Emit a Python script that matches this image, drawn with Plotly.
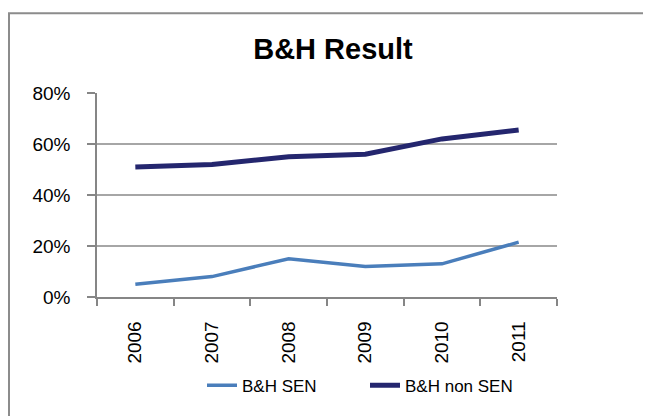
import plotly.graph_objects as go

years = ["2006", "2007", "2008", "2009", "2010", "2011"]
sen = [0.05, 0.08, 0.15, 0.12, 0.13, 0.215]
non_sen = [0.51, 0.52, 0.55, 0.56, 0.62, 0.655]
y_ticks = [0, 0.2, 0.4, 0.6, 0.8]
y_labels = ["0%", "20%", "40%", "60%", "80%"]

FONT = "Liberation Sans"
OFF = 8  # page body margin
W, H = 651 - OFF, 416 - OFF
# plot area in page pixels: x 97..557, y 93..300
L = 97 - OFF
T = 93 - OFF
R = W - (557 - OFF)
B = H - (300 - OFF)
pw, ph = W - L - R, H - T - B

def px_x(p):
    return (p - OFF - L) / pw

def px_y(p):
    return (H - B - (p - OFF)) / ph

fig = go.Figure()
fig.add_trace(go.Scatter(x=years, y=sen, mode="lines", name="B&H SEN",
                         line=dict(color="#4A7EBB", width=3.5)))
fig.add_trace(go.Scatter(x=years, y=non_sen, mode="lines", name="B&H non SEN",
                         line=dict(color="#24266E", width=5)))

fig.update_layout(
    width=W, height=H,
    margin=dict(l=L, r=R, t=T, b=B),
    paper_bgcolor="white", plot_bgcolor="white",
    font=dict(family=FONT, size=18, color="black"),
    title=dict(text="<b>B&H Result</b>", font=dict(family=FONT, size=29, color="black"),
               x=(333 - OFF) / W, xref="container", xanchor="center",
               y=1 - (49 - OFF) / H, yref="container", yanchor="middle"),
    showlegend=True,
    legend=dict(orientation="h", x=px_x(365), xanchor="center", y=px_y(390), yanchor="middle",
                font=dict(family=FONT, size=17, color="black"), bgcolor="rgba(0,0,0,0)",
                entrywidth=118),
    xaxis=dict(type="category", showgrid=False, showline=True, linecolor="#868686", linewidth=1.5,
               ticks="outside", ticklen=7, tickcolor="#868686", tickwidth=1.5, tickson="boundaries",
               tickangle=-90, tickfont=dict(family=FONT, size=19), range=[-0.5, 5.5],
               ticklabelstandoff=15),
    yaxis=dict(range=[0, 0.8], tickvals=y_ticks, ticktext=y_labels, showgrid=True,
               gridcolor="#A6A6A6", gridwidth=1.5, showline=True, linecolor="#868686", linewidth=1.5,
               ticks="outside", ticklen=8, tickcolor="#868686", tickwidth=1.5, zeroline=False,
               tickfont=dict(family=FONT, size=19), ticklabelstandoff=13),
    shapes=[
        dict(type="rect", xref="paper", yref="paper", x0=px_x(9), x1=px_x(720),
             y0=px_y(480), y1=px_y(12), line=dict(color="#8C8C8C", width=2), layer="below"),
    ],
)

fig.write_html("out.html")
